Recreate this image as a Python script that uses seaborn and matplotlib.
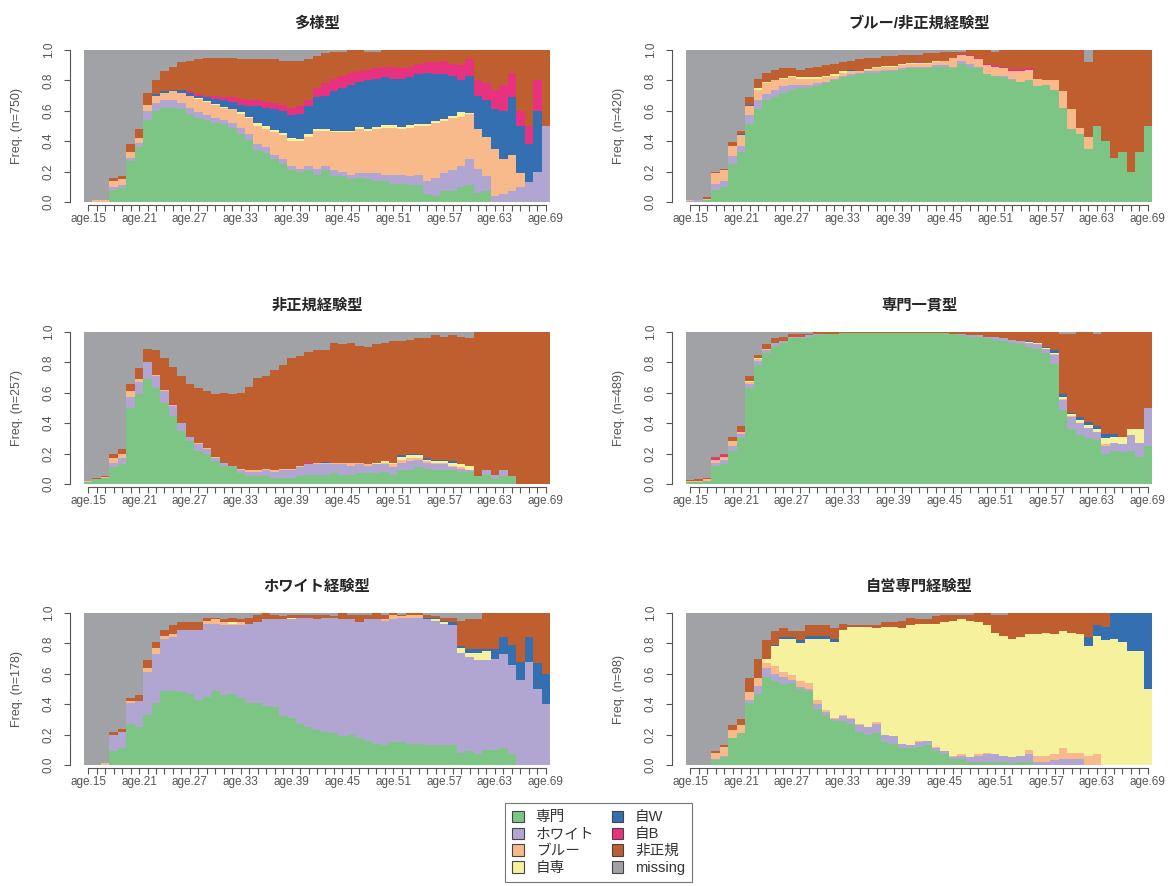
import numpy as np
import pandas as pd
import matplotlib
matplotlib.use("Agg")
import matplotlib.pyplot as plt
from matplotlib.patches import Patch
import seaborn as sns

ages = list(range(15, 70))
states = ["専門", "ホワイト", "ブルー", "自専", "自W", "自B", "非正規", "missing"]
colors = ["#7dc584", "#b1a5d1", "#f8b98b", "#f5f19c", "#3470b1", "#e8317f", "#bf5e2e", "#a1a2a6"]
yticks = [0.0, 0.2, 0.4, 0.6, 0.8, 1.0]

# values: upper edge of each state's band,
# counted from the bottom (専門 at the bottom, missing fills up to 1)

# 多様型 (n=750)
a_senmon = [0, 0, 0, .08, .09, .27, .36, .54, .60, .62,
            .62, .61, .58, .55, .54, .52, .51, .49, .45, .41,
            .34, .32, .28, .25, .21, .20, .21, .18, .21, .17,
            .17, .15, .16, .15, .14, .14, .12, .12, .11, .11,
            .05, .04, .07, .07, .10, .11, .06, .07, 0, 0,
            0, 0, 0, 0, 0]
a_white = [0, 0, 0, .10, .11, .29, .39, .60, .65, .67,
           .67, .65, .62, .59, .57, .55, .54, .52, .49, .45,
           .38, .36, .31, .28, .24, .22, .24, .22, .24, .21,
           .20, .18, .19, .19, .19, .18, .18, .18, .17, .18,
           .14, .16, .19, .21, .24, .28, .22, .17, .04, .05,
           .07, .10, .13, .20, .50]
a_blue = [0, .01, .01, .14, .15, .33, .42, .64, .70, .72,
          .73, .72, .70, .68, .66, .64, .62, .61, .58, .55,
          .50, .48, .46, .44, .40, .40, .43, .47, .47, .46,
          .46, .46, .48, .47, .48, .49, .49, .48, .49, .50,
          .50, .52, .53, .55, .56, .58, .48, .43, .35, .28,
          .31, .19, .13, .20, .50]
a_jisen = [0, .01, .01, .14, .15, .33, .42, .64, .70, .72,
           .73, .72, .70, .685, .665, .645, .625, .615, .59, .56,
           .52, .50, .475, .455, .42, .415, .445, .48, .48, .47,
           .47, .47, .495, .48, .495, .505, .505, .495, .505, .515,
           .515, .535, .545, .565, .59, .585, .48, .43, .35, .28,
           .31, .19, .13, .20, .50]
a_jiw = [0, .01, .01, .14, .15, .33, .42, .64, .71, .73,
         .74, .74, .72, .70, .69, .68, .67, .66, .64, .63,
         .63, .62, .61, .60, .57, .58, .63, .69, .70, .73,
         .75, .77, .79, .80, .81, .82, .81, .81, .82, .84,
         .85, .84, .84, .83, .80, .83, .70, .67, .61, .60,
         .69, .50, .38, .60, .50]
a_jib = [0, .01, .01, .14, .15, .33, .42, .64, .71, .73,
         .74, .74, .73, .71, .70, .70, .69, .69, .68, .67,
         .67, .66, .65, .64, .62, .63, .67, .75, .78, .81,
         .83, .85, .86, .87, .88, .89, .89, .88, .89, .91,
         .92, .92, .93, .91, .90, .94, .80, .78, .74, .77,
         .85, .60, .50, .80, .50]
a_hisei = [0, .01, .015, .16, .17, .38, .48, .72, .80, .86,
           .89, .92, .93, .94, .95, .95, .95, .95, .94, .94,
           .94, .94, .94, .93, .93, .93, .94, .96, .98, .99,
           .99, 1, 1, .99, .99, 1, 1, 1, 1, 1,
           1, 1, 1, 1, 1, 1, 1, 1, 1, 1,
           1, 1, 1, 1, 1]

# ブルー/非正規経験型 (n=420)
b_senmon = [0, 0, .01, .08, .10, .25, .33, .51, .61, .67,
            .69, .72, .74, .75, .75, .76, .78, .80, .82, .83,
            .84, .85, .85, .86, .86, .87, .88, .88, .88, .89,
            .89, .88, .91, .89, .88, .84, .83, .82, .80, .79,
            .80, .76, .77, .74, .62, .48, .45, .35, .50, .40,
            .29, .33, .20, .33, .50]
b_white = [.005, .01, .01, .12, .14, .30, .37, .57, .67, .71,
           .74, .76, .77, .77, .77, .78, .79, .81, .83, .84,
           .85, .86, .86, .87, .87, .88, .89, .89, .89, .90,
           .90, .89, .93, .91, .89, .84, .83, .83, .81, .79,
           .80, .76, .77, .74, .62, .48, .45, .35, .50, .40,
           .29, .33, .20, .33, .50]
b_blue = [.015, .015, .02, .19, .21, .37, .44, .63, .74, .78,
          .80, .81, .82, .81, .81, .81, .82, .83, .85, .86,
          .86, .87, .88, .89, .89, .90, .91, .91, .91, .92,
          .93, .95, .97, .96, .94, .90, .89, .88, .86, .86,
          .87, .81, .80, .80, .73, .61, .49, .43, .50, .40,
          .29, .33, .20, .33, .50]
b_jisen = [.015, .015, .02, .19, .21, .37, .44, .63, .75, .79,
           .805, .815, .83, .82, .82, .82, .83, .84, .86, .865,
           .865, .875, .885, .895, .895, .905, .915, .915, .915, .925,
           .93, .95, .97, .96, .94, .90, .89, .88, .86, .86,
           .87, .81, .80, .80, .73, .61, .49, .43, .50, .40,
           .29, .33, .20, .33, .50]
b_jiw = [.015, .015, .02, .19, .21, .37, .45, .64, .75, .79,
         .805, .815, .83, .82, .82, .82, .83, .84, .86, .87,
         .865, .875, .885, .895, .895, .905, .915, .915, .915, .925,
         .93, .95, .97, .96, .94, .90, .89, .88, .86, .86,
         .87, .81, .80, .80, .73, .61, .49, .43, .50, .40,
         .29, .33, .20, .33, .50]
b_jib = [.015, .015, .02, .19, .21, .37, .45, .64, .75, .79,
         .805, .815, .83, .82, .82, .82, .83, .84, .86, .87,
         .865, .875, .885, .895, .895, .905, .915, .92, .915, .93,
         .93, .95, .975, .965, .95, .91, .90, .89, .875, .875,
         .88, .81, .80, .80, .73, .61, .49, .43, .50, .40,
         .29, .33, .20, .33, .50]
b_hisei = [.015, .015, .03, .20, .22, .395, .47, .69, .81, .85,
           .87, .88, .88, .87, .88, .89, .90, .91, .92, .93,
           .94, .95, .95, .96, .96, .97, .97, .97, .98, .98,
           .99, .99, .99, 1, 1, 1, .985, 1, 1, 1,
           1, 1, 1, 1, 1, 1, 1, .92, 1, 1,
           1, 1, 1, 1, 1]

# 非正規経験型 (n=257)
c_senmon = [.01, .03, .04, .11, .13, .50, .59, .69, .63, .53,
            .45, .35, .28, .22, .20, .15, .12, .11, .07, .05,
            .05, .05, .04, .04, .04, .05, .06, .06, .06, .07,
            .06, .06, .07, .07, .07, .08, .06, .09, .09, .11,
            .10, .09, .09, .09, .08, .08, .05, .06, .03, .05,
            .05, 0, 0, 0, 0]
c_white = [.01, .03, .04, .14, .17, .57, .67, .80, .71, .61,
           .51, .40, .31, .26, .23, .17, .14, .12, .09, .08,
           .08, .09, .08, .09, .09, .11, .13, .13, .13, .13,
           .13, .12, .13, .12, .13, .13, .11, .14, .15, .16,
           .14, .13, .13, .11, .10, .09, .05, .09, .06, .09,
           .05, 0, 0, 0, 0]
c_blue = [.02, .035, .045, .17, .20, .61, .69, .80, .72, .62,
          .52, .40, .31, .27, .24, .18, .14, .12, .10, .09,
          .09, .10, .09, .10, .10, .12, .13, .14, .14, .14,
          .14, .14, .14, .13, .13, .14, .13, .16, .17, .17,
          .15, .14, .14, .12, .11, .09, .05, .09, .06, .09,
          .05, 0, 0, 0, 0]
c_jisen = [.02, .035, .045, .17, .20, .61, .69, .80, .72, .62,
           .52, .40, .31, .27, .24, .18, .14, .12, .10, .09,
           .09, .10, .09, .10, .10, .12, .13, .14, .14, .14,
           .14, .14, .14, .13, .14, .15, .14, .18, .19, .19,
           .16, .15, .15, .14, .13, .12, .05, .09, .06, .09,
           .05, 0, 0, 0, 0]
c_jiw = [.02, .035, .045, .17, .20, .61, .69, .80, .72, .62,
         .52, .40, .31, .27, .24, .18, .14, .12, .10, .09,
         .09, .10, .09, .10, .10, .12, .13, .14, .145, .14,
         .14, .14, .14, .13, .14, .15, .14, .19, .20, .20,
         .17, .16, .16, .15, .13, .12, .05, .09, .06, .09,
         .05, 0, 0, 0, 0]
c_jib = [.02, .035, .045, .17, .20, .61, .69, .80, .72, .62,
         .525, .40, .31, .27, .24, .18, .14, .12, .10, .09,
         .09, .10, .09, .10, .10, .12, .14, .14, .145, .14,
         .14, .14, .14, .13, .14, .15, .14, .19, .20, .20,
         .17, .16, .16, .15, .13, .12, .05, .09, .06, .09,
         .05, 0, 0, 0, 0]
c_hisei = [.02, .04, .05, .20, .23, .66, .76, .89, .88, .83,
           .77, .71, .66, .63, .61, .59, .60, .59, .60, .64,
           .70, .71, .75, .78, .83, .84, .87, .88, .88, .93,
           .92, .93, .91, .90, .92, .93, .94, .94, .95, .96,
           .96, .98, .97, .98, .97, .96, 1, 1, 1, 1,
           1, 1, 1, 1, 1]

# 専門一貫型 (n=489)
d_senmon = [.01, .01, .02, .12, .13, .22, .30, .63, .78, .86,
            .91, .93, .96, .96, .97, .98, .99, .99, .995, .995,
            .995, .995, .995, .995, .995, .995, .995, .995, .995, .995,
            .995, .99, .98, .97, .97, .96, .95, .94, .93, .92,
            .90, .89, .86, .79, .49, .36, .32, .30, .29, .20,
            .22, .21, .22, .18, .25]
d_white = [.01, .01, .02, .14, .16, .25, .33, .66, .81, .88,
           .93, .94, .97, .97, .98, .985, .99, .99, .995, .995,
           .995, .995, .995, .995, .995, .995, .995, .995, .995, .995,
           .995, .99, .985, .98, .98, .97, .965, .96, .95, .94,
           .93, .92, .89, .85, .55, .44, .40, .37, .34, .25,
           .27, .26, .32, .27, .50]
d_blue = [.02, .02, .03, .16, .18, .28, .34, .67, .82, .89,
          .93, .94, .97, .97, .98, .985, .99, .99, .995, .995,
          .995, .995, .995, .995, .995, .995, .995, .995, .995, .995,
          .995, .99, .985, .98, .98, .97, .965, .96, .95, .94,
          .93, .92, .89, .855, .56, .45, .40, .37, .345, .26,
          .27, .26, .32, .27, .50]
d_jisen = [.02, .02, .03, .16, .18, .28, .34, .68, .83, .89,
           .93, .94, .97, .97, .98, .985, .99, .99, .995, .995,
           .995, .995, .995, .995, .995, .995, .995, .995, .995, .995,
           .995, .99, .985, .98, .98, .97, .965, .96, .95, .94,
           .935, .925, .895, .86, .57, .46, .42, .39, .36, .30,
           .31, .31, .36, .36, .50]
d_jiw = [.02, .02, .03, .16, .18, .28, .34, .68, .83, .89,
         .93, .94, .97, .97, .98, .985, .99, .99, .995, .995,
         .995, .995, .995, .995, .995, .995, .995, .995, .995, .995,
         .995, .99, .985, .98, .98, .97, .965, .96, .95, .94,
         .94, .93, .90, .88, .59, .47, .44, .41, .38, .33,
         .33, .31, .36, .36, .50]
d_jib = [.02, .02, .03, .17, .19, .28, .35, .68, .83, .89,
         .93, .94, .97, .97, .98, .985, .99, .99, .995, .995,
         .995, .995, .995, .995, .995, .995, .995, .995, .995, .995,
         .995, .99, .985, .98, .98, .97, .965, .96, .95, .94,
         .94, .93, .90, .88, .59, .47, .44, .41, .38, .33,
         .33, .31, .36, .36, .50]
d_hisei = [.025, .03, .04, .18, .20, .31, .38, .71, .85, .92,
           .96, .97, .99, .99, .99, 1, 1, 1, 1, 1,
           1, 1, 1, 1, 1, 1, 1, 1, 1, 1,
           1, 1, 1, 1, 1, 1, 1, 1, 1, 1,
           1, 1, 1, 1, .99, .99, 1, 1, .99, 1,
           1, 1, 1, 1, 1]

# ホワイト経験型 (n=178)
e_senmon = [0, 0, 0, .09, .11, .27, .25, .33, .41, .49,
            .49, .48, .47, .43, .45, .49, .46, .47, .44, .41,
            .41, .39, .38, .32, .31, .27, .25, .23, .22, .21,
            .19, .20, .18, .16, .14, .13, .15, .15, .14, .14,
            .13, .13, .13, .13, .08, .09, .07, .10, .10, .11,
            .07, 0, 0, 0, 0]
e_white = [0, 0, 0, .20, .22, .41, .42, .61, .73, .83,
           .84, .89, .89, .89, .93, .93, .92, .92, .92, .93,
           .94, .96, .96, .96, .96, .97, .97, .96, .97, .97,
           .96, .96, .94, .96, .96, .95, .96, .97, .97, .97,
           .96, .95, .93, .92, .74, .71, .69, .69, .70, .73,
           .66, .56, .68, .50, .40]
e_blue = [0, 0, .01, .20, .22, .42, .42, .64, .77, .85,
          .86, .89, .89, .89, .95, .96, .94, .93, .94, .93,
          .94, .96, .96, .96, .96, .97, .97, .96, .97, .97,
          .96, .96, .94, .96, .96, .96, .99, .98, .99, .99,
          .96, .95, .93, .92, .74, .71, .69, .69, .70, .73,
          .66, .56, .68, .50, .40]
e_jisen = [0, 0, .01, .20, .22, .42, .42, .64, .77, .85,
           .86, .89, .89, .89, .95, .96, .94, .94, .94, .93,
           .94, .96, .96, .96, .97, .97, .97, .96, .97, .97,
           .96, .96, .94, .96, .96, .96, .99, .98, .99, .99,
           .96, .96, .94, .92, .77, .74, .74, .75, .70, .73,
           .66, .56, .68, .50, .40]
e_jiw = [0, 0, .01, .20, .22, .42, .42, .64, .77, .85,
         .86, .89, .89, .89, .95, .96, .94, .94, .94, .93,
         .94, .96, .96, .96, .97, .97, .97, .96, .97, .97,
         .96, .96, .94, .96, .96, .96, .99, .98, .99, .99,
         .97, .97, .95, .94, .78, .76, .76, .76, .76, .84,
         .79, .68, .84, .67, .60]
e_jib = [0, 0, .01, .20, .22, .42, .42, .64, .77, .85,
         .86, .89, .89, .89, .95, .96, .94, .94, .94, .93,
         .94, .96, .96, .96, .97, .97, .97, .96, .97, .97,
         .96, .96, .94, .96, .96, .96, .99, .98, .99, .99,
         .97, .97, .95, .94, .78, .76, .76, .76, .76, .84,
         .79, .68, .84, .67, .60]
e_hisei = [0, 0, .01, .22, .24, .44, .46, .69, .81, .89,
           .92, .94, .94, .94, .97, .97, .96, .97, .96, .97,
           .99, 1, .99, .98, .99, .99, .99, .99, .99, .98,
           1, .99, .99, .99, 1, .99, 1, .99, 1, 1,
           .99, .98, .97, .97, .95, .96, .96, 1, 1, 1,
           1, 1, 1, 1, 1]

# 自営専門経験型 (n=98)
f_senmon = [0, 0, 0, .03, .05, .18, .21, .41, .47, .58,
            .55, .53, .54, .50, .49, .37, .33, .29, .29, .27,
            .22, .20, .21, .15, .14, .11, .11, .12, .13, .09,
            .07, .04, .04, .02, .02, .02, .02, .02, .01, .02,
            .02, 0, 0, 0, 0, 0, 0, 0, 0, 0,
            0, 0, 0, 0, 0]
f_white = [0, 0, 0, .04, .06, .18, .21, .43, .52, .64,
           .60, .58, .56, .51, .50, .40, .35, .30, .32, .30,
           .26, .25, .27, .20, .19, .14, .13, .15, .16, .11,
           .09, .05, .06, .05, .06, .07, .07, .06, .05, .06,
           .07, .02, .02, .03, .04, .04, .04, 0, 0, 0,
           0, 0, 0, 0, 0]
f_blue = [0, 0, 0, .08, .12, .23, .26, .48, .57, .67,
          .65, .61, .59, .55, .54, .43, .36, .31, .33, .31,
          .27, .25, .28, .20, .19, .14, .13, .16, .16, .12,
          .09, .06, .07, .05, .07, .08, .07, .06, .05, .06,
          .10, .06, .06, .07, .11, .08, .08, .06, .07, 0,
          0, 0, 0, 0, 0]
f_jisen = [0, 0, 0, .08, .12, .23, .26, .48, .57, .70,
           .78, .83, .83, .80, .83, .83, .83, .81, .89, .91,
           .91, .91, .90, .91, .91, .90, .92, .93, .93, .93,
           .94, .95, .96, .95, .94, .92, .87, .85, .83, .84,
           .86, .86, .87, .86, .88, .87, .86, .78, .85, .82,
           .83, .81, .75, .75, .50]
f_jiw = [0, 0, 0, .08, .12, .23, .26, .48, .57, .70,
         .79, .84, .84, .82, .85, .85, .85, .83, .89, .91,
         .91, .91, .90, .91, .91, .90, .92, .93, .93, .93,
         .94, .95, .96, .95, .94, .92, .87, .85, .83, .84,
         .86, .86, .87, .86, .88, .87, .86, .84, .92, .91,
         1, 1, 1, 1, 1]
f_jib = [0, 0, 0, .08, .12, .23, .26, .48, .57, .70,
         .79, .84, .84, .82, .85, .85, .85, .83, .89, .91,
         .91, .91, .90, .91, .91, .90, .92, .93, .93, .93,
         .94, .95, .96, .95, .94, .92, .87, .85, .83, .84,
         .86, .86, .87, .86, .88, .87, .86, .84, .92, .91,
         1, 1, 1, 1, 1]
f_hisei = [0, 0, 0, .09, .13, .26, .30, .57, .70, .82,
           .88, .90, .88, .88, .92, .92, .92, .90, .93, .92,
           .92, .92, .92, .94, .94, .95, .97, .96, .96, .98,
           .99, .99, .99, .99, 1, 1, .99, .99, 1, 1,
           1, 1, 1, 1, 1, 1, 1, 1, 1, 1,
           1, 1, 1, 1, 1]

panels = [
    ("多様型", 750, [a_senmon, a_white, a_blue, a_jisen, a_jiw, a_jib, a_hisei]),
    ("ブルー/非正規経験型", 420, [b_senmon, b_white, b_blue, b_jisen, b_jiw, b_jib, b_hisei]),
    ("非正規経験型", 257, [c_senmon, c_white, c_blue, c_jisen, c_jiw, c_jib, c_hisei]),
    ("専門一貫型", 489, [d_senmon, d_white, d_blue, d_jisen, d_jiw, d_jib, d_hisei]),
    ("ホワイト経験型", 178, [e_senmon, e_white, e_blue, e_jisen, e_jiw, e_jib, e_hisei]),
    ("自営専門経験型", 98, [f_senmon, f_white, f_blue, f_jisen, f_jiw, f_jib, f_hisei]),
]

sns.set_theme(style="white")
plt.rcParams["font.family"] = ["Liberation Sans", "Noto Sans CJK JP"]
pal = dict(zip(states, colors))
axis_grey = "#555555"

fig = plt.figure(figsize=(11.68, 8.86), dpi=100)
col_x = [84 / 1168, 686 / 1168]
row_y = [1 - 202 / 886, 1 - 484 / 886, 1 - 765 / 886]
w, h = 466 / 1168, 152 / 886

for k, (title, n, tops) in enumerate(panels):
    ax = fig.add_axes([col_x[k % 2], row_y[k // 2], w, h])

    # band edges -> share of each state per age
    t = np.clip(np.maximum.accumulate(np.array(tops, dtype=float), axis=0), 0, 1)
    edges = np.vstack([np.zeros(len(ages)), t, np.ones(len(ages))])
    share = np.diff(edges, axis=0)
    df = pd.DataFrame({
        "age": np.tile(ages, len(states)),
        "state": np.repeat(states, len(ages)),
        "freq": share.ravel(),
    })

    # seaborn stacks the first hue level on top, so feed the order reversed
    sns.histplot(data=df, x="age", hue="state", weights="freq",
                 hue_order=states[::-1], palette=pal, multiple="stack",
                 discrete=True, element="step", alpha=1, linewidth=0,
                 antialiased=False, legend=False, ax=ax)

    # spines first: moving them outward rebuilds the tick objects
    sns.despine(ax=ax, offset={"left": 10, "bottom": 2})
    ax.set_xlim(14.5, 69.5)
    ax.set_ylim(0, 1)
    ax.spines["left"].set_bounds(0, 1)
    ax.spines["bottom"].set_bounds(15, 69)
    for s in ("left", "bottom"):
        ax.spines[s].set_color(axis_grey)
        ax.spines[s].set_linewidth(0.8)

    ax.set_xticks(ages)
    ax.set_xticklabels([f"age.{a}" if (a - 15) % 6 == 0 else "" for a in ages])
    ax.set_yticks(yticks)
    ax.set_yticklabels([f"{v:.1f}" for v in yticks])
    ax.tick_params(axis="both", direction="out", length=4, width=0.8,
                   color=axis_grey, labelcolor=axis_grey, labelsize=8.5,
                   bottom=True, left=True, pad=2)
    ax.tick_params(axis="y", labelrotation=90, pad=7)
    for lab in ax.get_yticklabels():
        lab.set_verticalalignment("center")
    ax.set_xlabel("")
    ax.set_ylabel(f"Freq. (n={n})", fontsize=9, color=axis_grey)
    ax.yaxis.set_label_coords(-0.13, 0.5)
    ax.set_title(title, fontsize=11, fontweight="bold", pad=16)

handles = [Patch(facecolor=c, edgecolor="#444444", linewidth=0.8) for c in colors]
leg = fig.legend(handles, states, loc="upper left",
                 bbox_to_anchor=(505 / 1168, 1 - 803 / 886), ncol=2,
                 frameon=True, fancybox=False, edgecolor=axis_grey, fontsize=10.5,
                 handlelength=0.8, handleheight=0.8, handletextpad=0.8,
                 labelspacing=0.2, columnspacing=1.2, borderpad=0.5,
                 borderaxespad=0)
leg.get_frame().set_linewidth(0.8)
for txt in leg.get_texts():
    txt.set_color("#333333")

fig.savefig("out.png", dpi=100)
